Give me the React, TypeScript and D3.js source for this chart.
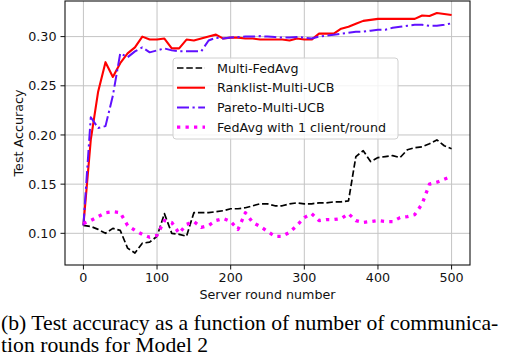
import React from 'react';
import * as d3 from 'd3';

const rounds = d3.range(0, 501, 10);

const multiFedAvg = [
  0.108, 0.107, 0.104, 0.100, 0.105, 0.103, 0.085, 0.080, 0.090, 0.091,
  0.097, 0.120, 0.100, 0.099, 0.097, 0.121, 0.121, 0.121, 0.122, 0.123,
  0.125, 0.125, 0.126, 0.128, 0.130, 0.130, 0.128, 0.128, 0.130, 0.131,
  0.130, 0.130, 0.131, 0.131, 0.132, 0.132, 0.133, 0.178, 0.184, 0.173,
  0.177, 0.178, 0.179, 0.177, 0.185, 0.187, 0.188, 0.191, 0.195, 0.189,
  0.186,
];

const ranklistUcb = [
  0.108, 0.195, 0.244, 0.274, 0.259, 0.273, 0.283, 0.289, 0.300, 0.297,
  0.297, 0.298, 0.288, 0.288, 0.297, 0.296, 0.298, 0.300, 0.302, 0.298,
  0.299, 0.299, 0.298, 0.298, 0.297, 0.297, 0.297, 0.297, 0.296, 0.298,
  0.297, 0.297, 0.303, 0.303, 0.303, 0.308, 0.310, 0.313, 0.316, 0.317,
  0.318, 0.318, 0.318, 0.318, 0.318, 0.318, 0.3215, 0.321, 0.324, 0.323,
  0.322,
];

const paretoUcb = [
  0.108, 0.218, 0.207, 0.209, 0.240, 0.283, 0.279, 0.285, 0.289, 0.284,
  0.286, 0.288, 0.286, 0.285, 0.285, 0.285, 0.285, 0.296, 0.299, 0.298,
  0.299, 0.2995, 0.300, 0.300, 0.3005, 0.300, 0.2995, 0.299, 0.299, 0.2995,
  0.299, 0.298, 0.300, 0.301, 0.302, 0.303, 0.304, 0.305, 0.305, 0.306,
  0.307, 0.307, 0.309, 0.310, 0.311, 0.312, 0.312, 0.311, 0.311, 0.312,
  0.3135,
];

const fedAvgOne = [
  0.110, 0.113, 0.117, 0.121, 0.122, 0.121, 0.108, 0.103, 0.099, 0.096,
  0.098, 0.113, 0.111, 0.100, 0.109, 0.112, 0.106, 0.108, 0.113, 0.115,
  0.112, 0.104, 0.121, 0.111, 0.107, 0.102, 0.097, 0.097, 0.101, 0.108,
  0.116, 0.120, 0.113, 0.114, 0.114, 0.115, 0.120, 0.113, 0.111, 0.112,
  0.113, 0.112, 0.112, 0.116, 0.117, 0.119, 0.130, 0.150, 0.152, 0.155,
  0.158,
];

const xTicks = [0, 100, 200, 300, 400, 500];
const yTicks = [0.1, 0.15, 0.2, 0.25, 0.3];

const series = [
  { label: 'Multi-FedAvg', values: multiFedAvg, color: '#000000', width: 1.7, dash: '6.5 2.8' },
  { label: 'Ranklist-Multi-UCB', values: ranklistUcb, color: '#ff0000', width: 2.1, dash: null },
  { label: 'Pareto-Multi-UCB', values: paretoUcb, color: '#6010ff', width: 2, dash: '12 3.5 2.2 3.5' },
  { label: 'FedAvg with 1 client/round', values: fedAvgOne, color: '#ff00ff', width: 3.3, dash: '3.3 5.2' },
];

const FONT = '"DejaVu Sans", sans-serif';

export default function App() {
  const W = 524;
  const H = 362;
  const m = { left: 65, right: 470, top: 1, bottom: 265 };

  const all = series.flatMap((s) => s.values);
  const lo = d3.min(all) as number;
  const hi = d3.max(all) as number;
  const pad = (hi - lo) * 0.05;

  const x = d3.scaleLinear().domain([-25, 525]).range([m.left, m.right]);
  const y = d3.scaleLinear().domain([lo - pad, hi + pad]).range([m.bottom, m.top]);

  const lineGen = d3
    .line<number>()
    .x((_, i) => x(rounds[i]))
    .y((d) => y(d));

  const legX = 173;
  const legY = 58;
  const rowH = 19.7;

  return (
    <svg
      width={W}
      height={H}
      viewBox={`0 0 ${W} ${H}`}
      style={{ position: 'absolute', left: 0, top: 0, background: '#fff' }}
    >
      {/* grid */}
      <g stroke="#c4c4c4" strokeWidth={1}>
        {xTicks.map((t) => (
          <line key={`gx${t}`} x1={x(t)} x2={x(t)} y1={m.top} y2={m.bottom} />
        ))}
        {yTicks.map((t) => (
          <line key={`gy${t}`} x1={m.left} x2={m.right} y1={y(t)} y2={y(t)} />
        ))}
      </g>

      {/* lines */}
      <g fill="none">
        {series.map((s) => (
          <path
            key={s.label}
            d={lineGen(s.values) || ''}
            stroke={s.color}
            strokeWidth={s.width}
            strokeDasharray={s.dash || undefined}
            strokeLinejoin="round"
          />
        ))}
      </g>

      {/* frame */}
      <rect
        x={m.left}
        y={m.top}
        width={m.right - m.left}
        height={m.bottom - m.top}
        fill="none"
        stroke="#111"
        strokeWidth={1.1}
      />

      {/* axes */}
      <g fontFamily={FONT} fontSize={12.7} fill="#111">
        {xTicks.map((t) => (
          <g key={`xt${t}`}>
            <line x1={x(t)} x2={x(t)} y1={m.bottom} y2={m.bottom + 4.5} stroke="#111" strokeWidth={1} />
            <text x={x(t)} y={m.bottom + 17} textAnchor="middle">
              {t}
            </text>
          </g>
        ))}
        {yTicks.map((t) => (
          <g key={`yt${t}`}>
            <line x1={m.left - 4.5} x2={m.left} y1={y(t)} y2={y(t)} stroke="#111" strokeWidth={1} />
            <text x={m.left - 8.5} y={y(t)} dy="0.36em" textAnchor="end">
              {d3.format('.2f')(t)}
            </text>
          </g>
        ))}
        <text x={(m.left + m.right) / 2} y={299} textAnchor="middle">
          Server round number
        </text>
        <text transform={`translate(23,${(m.top + m.bottom) / 2}) rotate(-90)`} textAnchor="middle">
          Test Accuracy
        </text>
      </g>

      {/* legend */}
      <g fontFamily={FONT} fontSize={12.7}>
        <rect
          x={legX}
          y={legY}
          width={225}
          height={81}
          rx={3}
          fill="#fff"
          fillOpacity={0.8}
          stroke="#d0d0d0"
          strokeWidth={1}
        />
        {series.map((s, i) => {
          const cy = legY + 10 + i * rowH;
          return (
            <g key={`lg${s.label}`}>
              <line
                x1={legX + 4}
                x2={legX + 32}
                y1={cy}
                y2={cy}
                stroke={s.color}
                strokeWidth={s.width}
                strokeDasharray={s.dash || undefined}
              />
              <text x={legX + 44} y={cy} dy="0.36em" fill="#111">
                {s.label}
              </text>
            </g>
          );
        })}
      </g>

      {/* caption */}
      <g fontFamily={'"Liberation Serif", "Times New Roman", serif'} fontSize={21.7} fill="#000">
        <text x={1} y={330}>
          (b) Test accuracy as a function of number of communica-
        </text>
        <text x={1} y={352}>
          tion rounds for Model 2
        </text>
      </g>
    </svg>
  );
}
